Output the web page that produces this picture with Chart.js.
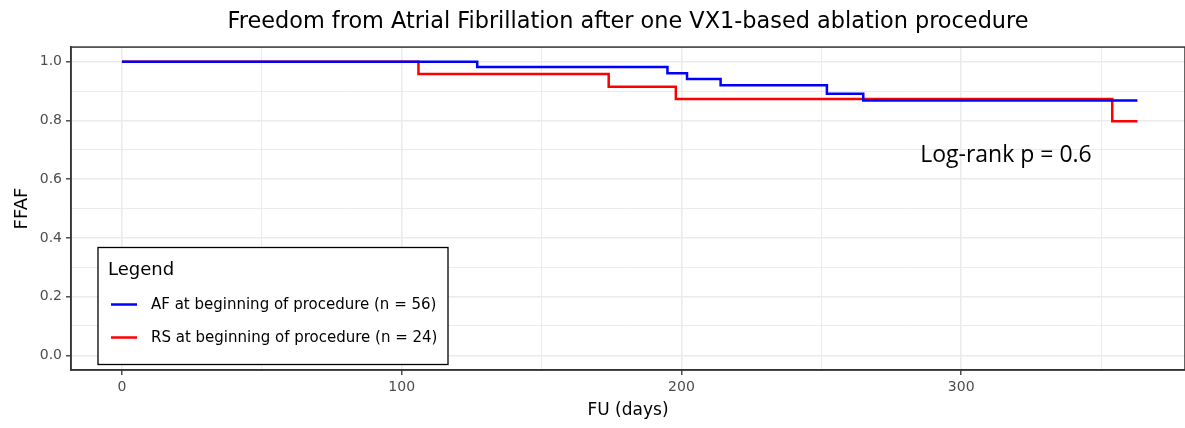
<!DOCTYPE html>
<html>
<head>
<meta charset="utf-8">
<script src="https://cdn.jsdelivr.net/npm/chart.js@4.4.1/dist/chart.umd.min.js"></script>
<style>
  html, body { margin: 0; padding: 0; background: #fff; }
  #wrap { width: 1185px; height: 428px; position: relative; }
</style>
</head>
<body>
<div id="wrap"><canvas id="km"></canvas></div>
<script>
// Kaplan-Meier: freedom from AF after one VX1-based ablation
// values (step points = day of drop, new survival)

var afLabel = 'AF at beginning of procedure (n = 56)';
var afDays = [0, 127, 195, 202, 214, 252, 265, 363];
var afSurv = [1.000, 0.982, 0.961, 0.941, 0.920, 0.891, 0.868, 0.868];

var rsLabel = 'RS at beginning of procedure (n = 24)';
var rsDays = [0, 106, 174, 198, 354, 363];
var rsSurv = [1.000, 0.958, 0.915, 0.873, 0.797, 0.797];

var xMajorTicks = [0, 100, 200, 300];
var xMinorTicks = [50, 150, 250, 350];
var yMajorTicks = [0, 0.2, 0.4, 0.6, 0.8, 1.0];
var yMinorTicks = [0.1, 0.3, 0.5, 0.7, 0.9];

var noteText = 'Log-rank p = 0.6';
var noteAt = {x: 316, y: 0.682};

function toPoints(xs, ys) {
  return xs.map(function (x, i) { return {x: x, y: ys[i]}; });
}
function isMajor(list, v) {
  return list.some(function (t) { return Math.abs(t - v) < 1e-9; });
}

var FONT = '"DejaVu Sans", sans-serif';

// top + right edges of the panel (bottom/left come from the axis borders)
var panelBox = {
  id: 'panelBox',
  afterDraw: function (chart) {
    var a = chart.chartArea, ctx = chart.ctx;
    ctx.save();
    ctx.strokeStyle = '#333333';
    ctx.lineWidth = 1.5;
    ctx.strokeRect(a.left, a.top, a.right - a.left, a.bottom - a.top);
    ctx.restore();
  }
};

// ggplot style legend box inside the panel, bottom left
var kmLegend = {
  id: 'kmLegend',
  afterDraw: function (chart) {
    var a = chart.chartArea, ctx = chart.ctx;
    var left = a.left + 27, top = 247.5, w = 350, h = 117;
    ctx.save();
    ctx.fillStyle = '#ffffff';
    ctx.fillRect(left, top, w, h);
    ctx.strokeStyle = '#000000';
    ctx.lineWidth = 1.3;
    ctx.strokeRect(left, top, w, h);

    ctx.fillStyle = '#000000';
    ctx.textBaseline = 'middle';
    ctx.textAlign = 'left';
    ctx.font = '18px ' + FONT;
    ctx.fillText('Legend', left + 10, top + 23);

    ctx.font = '15px ' + FONT;
    chart.data.datasets.forEach(function (ds, i) {
      var y = top + 57 + i * 33;
      ctx.strokeStyle = ds.borderColor;
      ctx.lineWidth = 2.5;
      ctx.beginPath();
      ctx.moveTo(left + 13, y);
      ctx.lineTo(left + 39, y);
      ctx.stroke();
      ctx.fillStyle = '#000000';
      ctx.fillText(ds.label, left + 53, y + 1);
    });
    ctx.restore();
  }
};

var logRankNote = {
  id: 'logRankNote',
  afterDraw: function (chart) {
    var ctx = chart.ctx;
    var px = chart.scales.x.getPixelForValue(noteAt.x);
    var py = chart.scales.y.getPixelForValue(noteAt.y);
    ctx.save();
    ctx.font = '23px "Open Sans", sans-serif';
    ctx.fillStyle = '#000000';
    ctx.textAlign = 'center';
    ctx.textBaseline = 'middle';
    ctx.fillText(noteText, px, py);
    ctx.restore();
  }
};

var chart = new Chart(document.getElementById('km'), {
  type: 'line',
  data: {
    datasets: [{
      label: afLabel,
      data: toPoints(afDays, afSurv),
      borderColor: '#0000ff',
      borderWidth: 2.5,
      stepped: true,
      pointRadius: 0,
      fill: false
    }, {
      label: rsLabel,
      data: toPoints(rsDays, rsSurv),
      borderColor: '#ff0000',
      borderWidth: 2.5,
      stepped: true,
      pointRadius: 0,
      fill: false
    }]
  },
  options: {
    responsive: true,
    maintainAspectRatio: false,
    animation: false,
    devicePixelRatio: 1,
    layout: { padding: 0 },
    plugins: {
      legend: { display: false },
      tooltip: { enabled: false },
      title: {
        display: true,
        fullSize: false,
        text: 'Freedom from Atrial Fibrillation after one VX1-based ablation procedure',
        color: '#000000',
        font: { family: FONT, size: 22.4, weight: 'normal' },
        padding: { top: 8.6, bottom: 11.6 }
      }
    },
    scales: {
      x: {
        type: 'linear',
        min: -18.2,
        max: 380,
        afterBuildTicks: function (s) {
          s.ticks = xMajorTicks.concat(xMinorTicks).sort(function (a, b) { return a - b; })
            .map(function (v) { return {value: v}; });
        },
        afterFit: function (s) { s.height = 58; },
        ticks: {
          color: '#4d4d4d',
          font: { family: FONT, size: 14 },
          padding: 3.5,
          maxRotation: 0,
          autoSkip: false,
          callback: function (v) { return isMajor(xMajorTicks, v) ? String(v) : ''; }
        },
        grid: {
          color: '#ebebeb',
          lineWidth: function (c) { return isMajor(xMajorTicks, c.tick.value) ? 1.6 : 1; },
          tickColor: function (c) { return isMajor(xMajorTicks, c.tick.value) ? '#333333' : 'rgba(0,0,0,0)'; },
          tickLength: 5,
          tickWidth: 1.3
        },
        border: { color: '#333333', width: 1.5 },
        title: {
          display: true,
          text: 'FU (days)',
          color: '#000000',
          font: { family: FONT, size: 17 },
          padding: { top: 0, bottom: 6.8 }
        }
      },
      y: {
        type: 'linear',
        min: -0.05,
        max: 1.05,
        afterBuildTicks: function (s) {
          s.ticks = yMajorTicks.concat(yMinorTicks).sort(function (a, b) { return a - b; })
            .map(function (v) { return {value: v}; });
        },
        afterFit: function (s) { s.width = 71; },
        ticks: {
          color: '#4d4d4d',
          font: { family: FONT, size: 14 },
          padding: 4,
          autoSkip: false,
          callback: function (v) { return isMajor(yMajorTicks, v) ? v.toFixed(1) : ''; }
        },
        grid: {
          color: '#ebebeb',
          lineWidth: function (c) { return isMajor(yMajorTicks, c.tick.value) ? 1.6 : 1; },
          tickColor: function (c) { return isMajor(yMajorTicks, c.tick.value) ? '#333333' : 'rgba(0,0,0,0)'; },
          tickLength: 5,
          tickWidth: 1.3
        },
        border: { color: '#333333', width: 1.5 },
        title: {
          display: true,
          text: 'FFAF',
          color: '#000000',
          font: { family: FONT, size: 18 },
          padding: { top: 11.5, bottom: 0 }
        }
      }
    }
  },
  plugins: [panelBox, kmLegend, logRankNote]
});
</script>
</body>
</html>
